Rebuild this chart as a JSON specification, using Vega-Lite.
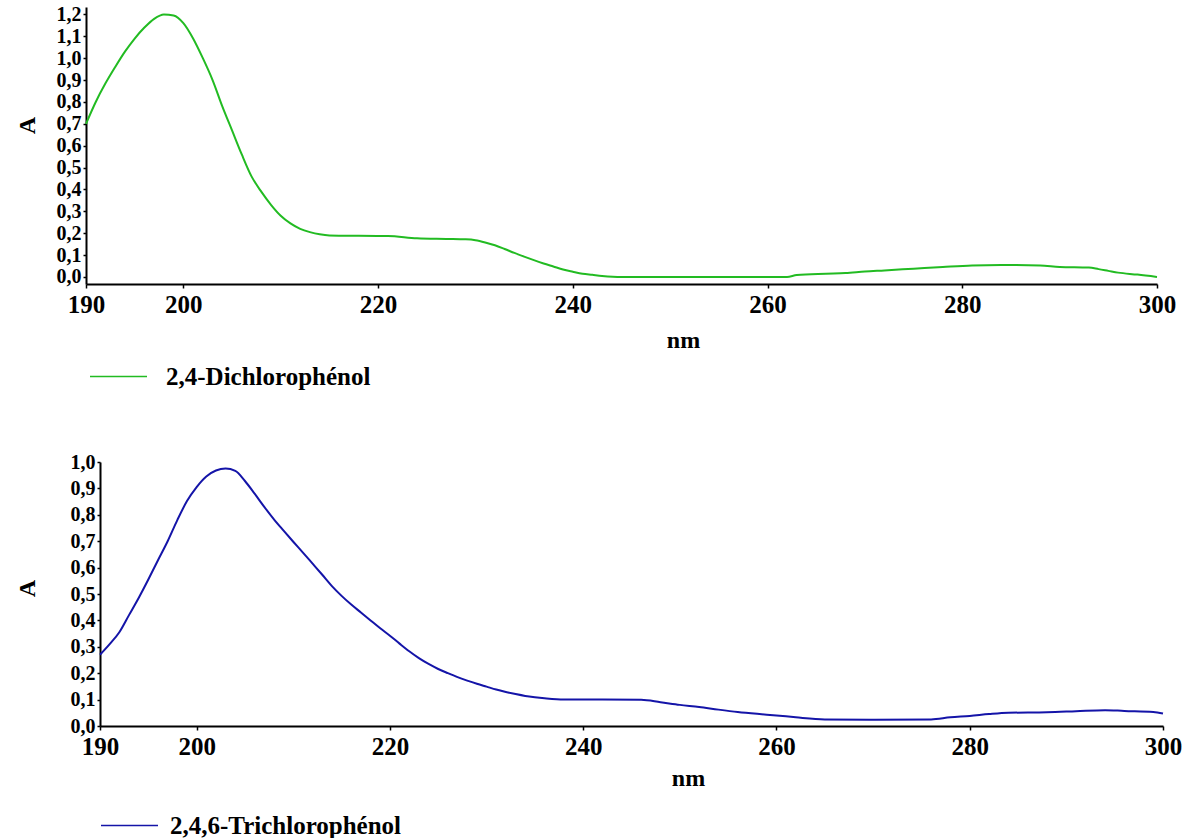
{
  "$schema": "https://vega.github.io/schema/vega-lite/v6.json",
  "background": "white",
  "padding": {"left": 15, "top": 4, "right": 5, "bottom": 0},
  "spacing": 62,
  "config": {
    "view": {"stroke": null},
    "font": "Liberation Serif",
    "axis": {
      "grid": false,
      "labelFont": "Liberation Serif",
      "labelFontWeight": "bold",
      "labelColor": "#000000",
      "titleFont": "Liberation Serif",
      "titleFontWeight": "bold",
      "titleColor": "#000000",
      "domainColor": "#000000",
      "domainWidth": 2,
      "tickColor": "#000000",
      "tickWidth": 1.5,
      "tickSize": 4,
      "labelOverlap": false,
      "labelFlush": false
    },
    "legend": {
      "labelFont": "Liberation Serif",
      "labelFontWeight": "bold",
      "labelColor": "#000000"
    }
  },
  "resolve": {"scale": {"color": "independent"}, "legend": {"color": "independent"}},
  "vconcat": [
    {
      "width": 1071,
      "height": 277,
      "data": {"values": [
        {"nm": 190, "A": 0.70, "series": "2,4-Dichlorophénol"},
        {"nm": 191, "A": 0.80, "series": "2,4-Dichlorophénol"},
        {"nm": 192, "A": 0.885, "series": "2,4-Dichlorophénol"},
        {"nm": 193, "A": 0.96, "series": "2,4-Dichlorophénol"},
        {"nm": 194, "A": 1.03, "series": "2,4-Dichlorophénol"},
        {"nm": 195, "A": 1.09, "series": "2,4-Dichlorophénol"},
        {"nm": 196, "A": 1.14, "series": "2,4-Dichlorophénol"},
        {"nm": 197, "A": 1.18, "series": "2,4-Dichlorophénol"},
        {"nm": 198, "A": 1.20, "series": "2,4-Dichlorophénol"},
        {"nm": 199, "A": 1.195, "series": "2,4-Dichlorophénol"},
        {"nm": 200, "A": 1.16, "series": "2,4-Dichlorophénol"},
        {"nm": 201, "A": 1.09, "series": "2,4-Dichlorophénol"},
        {"nm": 202, "A": 1.00, "series": "2,4-Dichlorophénol"},
        {"nm": 203, "A": 0.90, "series": "2,4-Dichlorophénol"},
        {"nm": 204, "A": 0.78, "series": "2,4-Dichlorophénol"},
        {"nm": 205, "A": 0.67, "series": "2,4-Dichlorophénol"},
        {"nm": 206, "A": 0.56, "series": "2,4-Dichlorophénol"},
        {"nm": 207, "A": 0.46, "series": "2,4-Dichlorophénol"},
        {"nm": 208, "A": 0.39, "series": "2,4-Dichlorophénol"},
        {"nm": 209, "A": 0.33, "series": "2,4-Dichlorophénol"},
        {"nm": 210, "A": 0.28, "series": "2,4-Dichlorophénol"},
        {"nm": 211, "A": 0.245, "series": "2,4-Dichlorophénol"},
        {"nm": 212, "A": 0.22, "series": "2,4-Dichlorophénol"},
        {"nm": 213, "A": 0.205, "series": "2,4-Dichlorophénol"},
        {"nm": 214, "A": 0.195, "series": "2,4-Dichlorophénol"},
        {"nm": 215, "A": 0.19, "series": "2,4-Dichlorophénol"},
        {"nm": 218, "A": 0.188, "series": "2,4-Dichlorophénol"},
        {"nm": 221, "A": 0.187, "series": "2,4-Dichlorophénol"},
        {"nm": 224, "A": 0.177, "series": "2,4-Dichlorophénol"},
        {"nm": 227, "A": 0.174, "series": "2,4-Dichlorophénol"},
        {"nm": 229, "A": 0.172, "series": "2,4-Dichlorophénol"},
        {"nm": 230, "A": 0.168, "series": "2,4-Dichlorophénol"},
        {"nm": 231, "A": 0.158, "series": "2,4-Dichlorophénol"},
        {"nm": 232, "A": 0.145, "series": "2,4-Dichlorophénol"},
        {"nm": 233, "A": 0.128, "series": "2,4-Dichlorophénol"},
        {"nm": 234, "A": 0.11, "series": "2,4-Dichlorophénol"},
        {"nm": 235, "A": 0.093, "series": "2,4-Dichlorophénol"},
        {"nm": 236, "A": 0.077, "series": "2,4-Dichlorophénol"},
        {"nm": 237, "A": 0.062, "series": "2,4-Dichlorophénol"},
        {"nm": 238, "A": 0.048, "series": "2,4-Dichlorophénol"},
        {"nm": 239, "A": 0.034, "series": "2,4-Dichlorophénol"},
        {"nm": 240, "A": 0.024, "series": "2,4-Dichlorophénol"},
        {"nm": 241, "A": 0.015, "series": "2,4-Dichlorophénol"},
        {"nm": 242, "A": 0.01, "series": "2,4-Dichlorophénol"},
        {"nm": 243, "A": 0.005, "series": "2,4-Dichlorophénol"},
        {"nm": 245, "A": 0.0, "series": "2,4-Dichlorophénol"},
        {"nm": 250, "A": 0.0, "series": "2,4-Dichlorophénol"},
        {"nm": 255, "A": 0.0, "series": "2,4-Dichlorophénol"},
        {"nm": 262, "A": 0.0, "series": "2,4-Dichlorophénol"},
        {"nm": 263, "A": 0.009, "series": "2,4-Dichlorophénol"},
        {"nm": 266, "A": 0.015, "series": "2,4-Dichlorophénol"},
        {"nm": 268, "A": 0.018, "series": "2,4-Dichlorophénol"},
        {"nm": 270, "A": 0.025, "series": "2,4-Dichlorophénol"},
        {"nm": 272, "A": 0.03, "series": "2,4-Dichlorophénol"},
        {"nm": 275, "A": 0.038, "series": "2,4-Dichlorophénol"},
        {"nm": 278, "A": 0.046, "series": "2,4-Dichlorophénol"},
        {"nm": 281, "A": 0.053, "series": "2,4-Dichlorophénol"},
        {"nm": 284, "A": 0.055, "series": "2,4-Dichlorophénol"},
        {"nm": 288, "A": 0.053, "series": "2,4-Dichlorophénol"},
        {"nm": 290, "A": 0.046, "series": "2,4-Dichlorophénol"},
        {"nm": 293, "A": 0.043, "series": "2,4-Dichlorophénol"},
        {"nm": 294, "A": 0.036, "series": "2,4-Dichlorophénol"},
        {"nm": 295, "A": 0.028, "series": "2,4-Dichlorophénol"},
        {"nm": 296, "A": 0.02, "series": "2,4-Dichlorophénol"},
        {"nm": 298, "A": 0.011, "series": "2,4-Dichlorophénol"},
        {"nm": 300, "A": 0.0, "series": "2,4-Dichlorophénol"}
      ]},
      "mark": {"type": "line", "strokeWidth": 2, "interpolate": "monotone", "clip": false},
      "encoding": {
        "x": {
          "field": "nm", "type": "quantitative",
          "scale": {"domain": [190, 300], "nice": false, "zero": false},
          "axis": {
            "values": [190, 200, 220, 240, 260, 280, 300],
            "format": "d",
            "labelFontSize": 25,
            "labelPadding": 4,
            "title": "nm",
            "titleFontSize": 24,
            "titleX": 597,
            "titleY": 56,
            "titleAlign": "center",
            "titleBaseline": "middle"
          }
        },
        "y": {
          "field": "A", "type": "quantitative",
          "scale": {"domain": [-0.032, 1.234], "nice": false, "zero": false},
          "axis": {
            "values": [0, 0.1, 0.2, 0.3, 0.4, 0.5, 0.6, 0.7, 0.8, 0.9, 1.0, 1.1, 1.2],
            "labelExpr": "replace(format(datum.value, '.1f'), '.', ',')",
            "labelFontSize": 20,
            "labelPadding": 2,
            "tickSize": 3,
            "title": "A",
            "titleFontSize": 24,
            "titleAngle": -90,
            "titleX": -59,
            "titleY": 118,
            "titleAlign": "center",
            "titleBaseline": "middle"
          }
        },
        "color": {
          "field": "series", "type": "nominal",
          "scale": {"domain": ["2,4-Dichlorophénol"], "range": ["#22bb22"]},
          "legend": {
            "title": null,
            "orient": "none",
            "legendX": 3,
            "legendY": 340,
            "padding": 0,
            "symbolType": "stroke",
            "symbolSize": 3249,
            "symbolStrokeWidth": 1.5,
            "labelFontSize": 25,
            "labelOffset": 18,
            "labelLimit": 0
          }
        }
      }
    },
    {
      "width": 1077,
      "height": 264,
      "data": {"values": [
        {"nm": 190, "A": 0.27, "series": "2,4,6-Trichlorophénol"},
        {"nm": 191, "A": 0.31, "series": "2,4,6-Trichlorophénol"},
        {"nm": 192, "A": 0.355, "series": "2,4,6-Trichlorophénol"},
        {"nm": 193, "A": 0.42, "series": "2,4,6-Trichlorophénol"},
        {"nm": 194, "A": 0.485, "series": "2,4,6-Trichlorophénol"},
        {"nm": 195, "A": 0.555, "series": "2,4,6-Trichlorophénol"},
        {"nm": 196, "A": 0.628, "series": "2,4,6-Trichlorophénol"},
        {"nm": 197, "A": 0.70, "series": "2,4,6-Trichlorophénol"},
        {"nm": 198, "A": 0.78, "series": "2,4,6-Trichlorophénol"},
        {"nm": 199, "A": 0.852, "series": "2,4,6-Trichlorophénol"},
        {"nm": 200, "A": 0.905, "series": "2,4,6-Trichlorophénol"},
        {"nm": 201, "A": 0.945, "series": "2,4,6-Trichlorophénol"},
        {"nm": 202, "A": 0.968, "series": "2,4,6-Trichlorophénol"},
        {"nm": 203, "A": 0.975, "series": "2,4,6-Trichlorophénol"},
        {"nm": 204, "A": 0.966, "series": "2,4,6-Trichlorophénol"},
        {"nm": 205, "A": 0.928, "series": "2,4,6-Trichlorophénol"},
        {"nm": 206, "A": 0.88, "series": "2,4,6-Trichlorophénol"},
        {"nm": 207, "A": 0.83, "series": "2,4,6-Trichlorophénol"},
        {"nm": 208, "A": 0.783, "series": "2,4,6-Trichlorophénol"},
        {"nm": 209, "A": 0.74, "series": "2,4,6-Trichlorophénol"},
        {"nm": 210, "A": 0.698, "series": "2,4,6-Trichlorophénol"},
        {"nm": 211, "A": 0.657, "series": "2,4,6-Trichlorophénol"},
        {"nm": 212, "A": 0.615, "series": "2,4,6-Trichlorophénol"},
        {"nm": 213, "A": 0.573, "series": "2,4,6-Trichlorophénol"},
        {"nm": 214, "A": 0.53, "series": "2,4,6-Trichlorophénol"},
        {"nm": 215, "A": 0.493, "series": "2,4,6-Trichlorophénol"},
        {"nm": 216, "A": 0.46, "series": "2,4,6-Trichlorophénol"},
        {"nm": 217, "A": 0.43, "series": "2,4,6-Trichlorophénol"},
        {"nm": 218, "A": 0.40, "series": "2,4,6-Trichlorophénol"},
        {"nm": 219, "A": 0.37, "series": "2,4,6-Trichlorophénol"},
        {"nm": 220, "A": 0.342, "series": "2,4,6-Trichlorophénol"},
        {"nm": 221, "A": 0.312, "series": "2,4,6-Trichlorophénol"},
        {"nm": 222, "A": 0.283, "series": "2,4,6-Trichlorophénol"},
        {"nm": 223, "A": 0.257, "series": "2,4,6-Trichlorophénol"},
        {"nm": 224, "A": 0.235, "series": "2,4,6-Trichlorophénol"},
        {"nm": 225, "A": 0.216, "series": "2,4,6-Trichlorophénol"},
        {"nm": 226, "A": 0.2, "series": "2,4,6-Trichlorophénol"},
        {"nm": 227, "A": 0.185, "series": "2,4,6-Trichlorophénol"},
        {"nm": 228, "A": 0.172, "series": "2,4,6-Trichlorophénol"},
        {"nm": 229, "A": 0.16, "series": "2,4,6-Trichlorophénol"},
        {"nm": 230, "A": 0.149, "series": "2,4,6-Trichlorophénol"},
        {"nm": 231, "A": 0.138, "series": "2,4,6-Trichlorophénol"},
        {"nm": 232, "A": 0.129, "series": "2,4,6-Trichlorophénol"},
        {"nm": 233, "A": 0.121, "series": "2,4,6-Trichlorophénol"},
        {"nm": 234, "A": 0.114, "series": "2,4,6-Trichlorophénol"},
        {"nm": 235, "A": 0.109, "series": "2,4,6-Trichlorophénol"},
        {"nm": 236, "A": 0.105, "series": "2,4,6-Trichlorophénol"},
        {"nm": 238, "A": 0.1, "series": "2,4,6-Trichlorophénol"},
        {"nm": 242, "A": 0.1, "series": "2,4,6-Trichlorophénol"},
        {"nm": 246, "A": 0.099, "series": "2,4,6-Trichlorophénol"},
        {"nm": 248, "A": 0.09, "series": "2,4,6-Trichlorophénol"},
        {"nm": 250, "A": 0.08, "series": "2,4,6-Trichlorophénol"},
        {"nm": 252, "A": 0.072, "series": "2,4,6-Trichlorophénol"},
        {"nm": 254, "A": 0.062, "series": "2,4,6-Trichlorophénol"},
        {"nm": 256, "A": 0.053, "series": "2,4,6-Trichlorophénol"},
        {"nm": 258, "A": 0.046, "series": "2,4,6-Trichlorophénol"},
        {"nm": 260, "A": 0.04, "series": "2,4,6-Trichlorophénol"},
        {"nm": 262, "A": 0.033, "series": "2,4,6-Trichlorophénol"},
        {"nm": 265, "A": 0.025, "series": "2,4,6-Trichlorophénol"},
        {"nm": 270, "A": 0.024, "series": "2,4,6-Trichlorophénol"},
        {"nm": 276, "A": 0.025, "series": "2,4,6-Trichlorophénol"},
        {"nm": 278, "A": 0.033, "series": "2,4,6-Trichlorophénol"},
        {"nm": 280, "A": 0.038, "series": "2,4,6-Trichlorophénol"},
        {"nm": 282, "A": 0.045, "series": "2,4,6-Trichlorophénol"},
        {"nm": 284, "A": 0.05, "series": "2,4,6-Trichlorophénol"},
        {"nm": 288, "A": 0.052, "series": "2,4,6-Trichlorophénol"},
        {"nm": 291, "A": 0.056, "series": "2,4,6-Trichlorophénol"},
        {"nm": 294, "A": 0.06, "series": "2,4,6-Trichlorophénol"},
        {"nm": 296, "A": 0.057, "series": "2,4,6-Trichlorophénol"},
        {"nm": 299, "A": 0.053, "series": "2,4,6-Trichlorophénol"},
        {"nm": 300, "A": 0.047, "series": "2,4,6-Trichlorophénol"}
      ]},
      "mark": {"type": "line", "strokeWidth": 2, "interpolate": "monotone", "clip": false},
      "encoding": {
        "x": {
          "field": "nm", "type": "quantitative",
          "scale": {"domain": [190, 300], "range": [14, 1077], "nice": false, "zero": false},
          "axis": {
            "values": [190, 200, 220, 240, 260, 280, 300],
            "format": "d",
            "labelFontSize": 25,
            "labelPadding": 4,
            "title": "nm",
            "titleFontSize": 24,
            "titleX": 602,
            "titleY": 52,
            "titleAlign": "center",
            "titleBaseline": "middle"
          }
        },
        "y": {
          "field": "A", "type": "quantitative",
          "scale": {"domain": [0, 1.0], "nice": false, "zero": false},
          "axis": {
            "values": [0, 0.1, 0.2, 0.3, 0.4, 0.5, 0.6, 0.7, 0.8, 0.9, 1.0],
            "labelExpr": "replace(format(datum.value, '.1f'), '.', ',')",
            "labelFontSize": 20,
            "labelPadding": 2,
            "tickSize": 3,
            "offset": -14,
            "title": "A",
            "titleFontSize": 24,
            "titleAngle": -90,
            "titleX": -73,
            "titleY": 126,
            "titleAlign": "center",
            "titleBaseline": "middle"
          }
        },
        "color": {
          "field": "series", "type": "nominal",
          "scale": {"domain": ["2,4,6-Trichlorophénol"], "range": ["#1414a8"]},
          "legend": {
            "title": null,
            "orient": "none",
            "legendX": 14,
            "legendY": 334,
            "padding": 0,
            "symbolType": "stroke",
            "symbolSize": 3249,
            "symbolStrokeWidth": 1.5,
            "labelFontSize": 25,
            "labelOffset": 11,
            "labelLimit": 0
          }
        }
      }
    }
  ]
}
